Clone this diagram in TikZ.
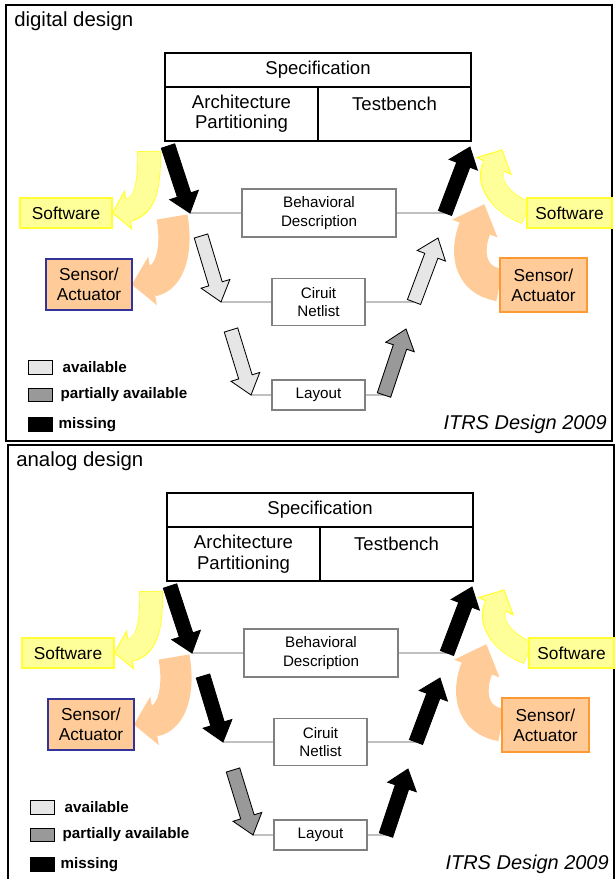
\documentclass[tikz,border=0pt]{standalone}
\usepackage{fontspec}
\setmainfont{Liberation Sans}
\usetikzlibrary{calc,positioning}

\definecolor{avail}{HTML}{E6E6E6}
\definecolor{partial}{HTML}{999999}
\definecolor{swfill}{HTML}{FFFF99}
\definecolor{swline}{HTML}{FFFF33}
\definecolor{snfill}{HTML}{FFCC99}
\definecolor{snblue}{HTML}{333399}
\definecolor{snorange}{HTML}{FF9933}
\definecolor{boxgray}{HTML}{808080}
\definecolor{linkgray}{HTML}{C0C0C0}

\tikzset{
  headbox/.style={draw, line width=1.4pt, inner sep=0pt, align=center,
    font=\fontsize{13.2}{14.5}\selectfont},
  stagebox/.style={draw=boxgray, line width=1.2pt, fill=white, inner sep=0pt,
    align=center, font=\fontsize{10.8}{13}\selectfont},
  link/.style={draw=linkgray, line width=1.3pt},
  sidebox/.style={line width=0.8pt, inner sep=0pt, align=center,
    font=\fontsize{12.3}{14}\selectfont},
  keybox/.style={draw, line width=0.6pt, inner sep=0pt,
    minimum width=0.6cm, minimum height=0.33cm},
  keytext/.style={inner sep=0pt, font=\bfseries\fontsize{10.8}{12}\selectfont},
}

% straight block arrow: fill, tail, tip
\newcommand{\blockarrow}[3]{%
  \coordinate (hb) at ($(#3)!13.5pt!(#2)$);
  \filldraw[fill=#1, draw=black, line width=0.6pt]
    ($(#2)!5pt!90:(#3)$) -- ($(hb)!5pt!90:(#3)$) -- ($(hb)!10.7pt!90:(#3)$)
    -- (#3) -- ($(hb)!10.7pt!-90:(#3)$) -- ($(hb)!5pt!-90:(#3)$)
    -- ($(#2)!5pt!-90:(#3)$) -- cycle;
}

% bent arrow: fill, outline, body width, head half width, start, c1, c2, head base, tip
\newcommand{\bentarrow}[9]{%
  \draw[#2, line width=#3+1.2pt] (#5) .. controls (#6) and (#7) .. (#8);
  \filldraw[fill=#1, draw=#2, line width=0.8pt]
    ($(#8)!#4!90:(#9)$) -- (#9) -- ($(#8)!#4!-90:(#9)$) -- cycle;
  \draw[#1, line width=#3, shorten <=0.6pt, shorten >=-1.5pt]
    (#5) .. controls (#6) and (#7) .. (#8);
}

% one panel: title, then fills of the six arrows
\newcommand{\vdesign}[7]{%
  \draw[line width=1.2pt] (6,5) rectangle (612,441);
  \node[anchor=west, inner sep=0pt, font=\fontsize{14.5}{16}\selectfont] (title) at (14,21) {#1};

  % top blocks
  \node[headbox, minimum width=7.65cm, minimum height=0.85cm] (spec) at (318,70) {Specification};
  \node[headbox, minimum width=3.825cm, minimum height=1.35cm] (arch) at (241.5,114) {Architecture\\Partitioning};
  \node[headbox, minimum width=3.825cm, minimum height=1.35cm] (tb) at (394.5,114) {Testbench\\\mbox{}};

  % levels
  \coordinate (behL) at (190,213); \coordinate (behR) at (445,213);
  \coordinate (netL) at (221,302); \coordinate (netR) at (414,302);
  \coordinate (layL) at (251,395); \coordinate (layR) at (384,395);
  \draw[link] (behL) -- (behR);
  \draw[link] (netL) -- (netR);
  \draw[link] (layL) -- (layR);
  \node[stagebox, minimum width=3.85cm, minimum height=1.2cm] (beh) at (319,213) {Behavioral\\Description};
  \node[stagebox, minimum width=2.325cm, minimum height=1.175cm] (net) at (318.5,302) {Ciruit\\Netlist};
  \node[stagebox, minimum width=2.325cm, minimum height=0.75cm] (lay) at (318.5,395) {Layout};

  % software and sensor feeds
  \coordinate (ysL) at (149,151);
  \coordinate (osL) at (172,217);
  \coordinate (ohR) at (484,205);
  \coordinate (yhR) at (502,150);
  \node[sidebox, minimum width=2.3cm, minimum height=0.75cm] (swL) at (66,213) {};
  \node[sidebox, minimum width=2.15cm, minimum height=1.275cm] (snL) at (89,284.5) {};
  \node[sidebox, minimum width=2.125cm, minimum height=0.75cm] (swR) at (569.5,213) {};
  \node[sidebox, minimum width=2.175cm, minimum height=1.35cm] (snR) at (543.5,285) {};
  \bentarrow{swfill}{swline}{15.6pt}{13.5pt}{ysL}{150,188}{144,207}{128,210}{swL.east}
  \bentarrow{snfill}{snfill}{21pt}{16.4pt}{osL}{178,250}{170,278}{152,281}{snL.east}
  \bentarrow{snfill}{snfill}{22pt}{16.4pt}{snR.west}{468,280}{466,250}{475,228}{ohR}
  \bentarrow{swfill}{swline}{15.6pt}{13.5pt}{swR.west}{500,203}{486,182}{494,166}{yhR}
  \node[sidebox, fill=swfill, draw=swline, minimum width=2.3cm, minimum height=0.75cm] at (swL) {Software};
  \node[sidebox, fill=snfill, draw=snblue, minimum width=2.15cm, minimum height=1.275cm] at (snL) {Sensor/\\Actuator};
  \node[sidebox, fill=swfill, draw=swline, minimum width=2.125cm, minimum height=0.75cm] at (swR) {Software};
  \node[sidebox, fill=snfill, draw=snorange, minimum width=2.175cm, minimum height=1.35cm] at (snR) {Sensor/\\Actuator};

  % block arrows
  \coordinate (d1t) at (168,146);
  \coordinate (d2t) at (201,236);
  \coordinate (d3t) at (231,330);
  \coordinate (u1h) at (406,329);
  \coordinate (u2h) at (438,238);
  \coordinate (u3h) at (470,147);
  \blockarrow{#2}{d1t}{behL}
  \blockarrow{#3}{d2t}{netL}
  \blockarrow{#4}{d3t}{layL}
  \blockarrow{#5}{layR}{u1h}
  \blockarrow{#6}{netR}{u2h}
  \blockarrow{#7}{behR}{u3h}

  % legend
  \node[keybox, fill=avail] (kA) at (40,367.5) {};
  \node[keybox, fill=partial] (kP) at (40,395) {};
  \node[keybox, fill=black] (kM) at (40,424.5) {};
  \node[keytext, right=0.25cm of kA] (tA) {available};
  \node[keytext, right=0.2cm of kP] (tP) {partially available};
  \node[keytext, right=0.15cm of kM] (tM) {missing};

  \node[anchor=east, inner sep=0pt, font=\itshape\fontsize{14.2}{16}\selectfont] (itrs) at (607,424) {ITRS Design 2009};
}

\begin{document}
\begin{tikzpicture}[x=0.025cm, y=-0.025cm]
  \useasboundingbox (0,0) rectangle (615,879);

  % digital design
  \begin{scope}[name prefix=dig-]
    \vdesign{digital design}{black}{avail}{avail}{partial}{avail}{black}
  \end{scope}

  % analog design
  \begin{scope}[shift={(2,440)}, name prefix=ana-]
    \vdesign{analog design}{black}{black}{partial}{black}{black}{black}
  \end{scope}
\end{tikzpicture}
\end{document}
